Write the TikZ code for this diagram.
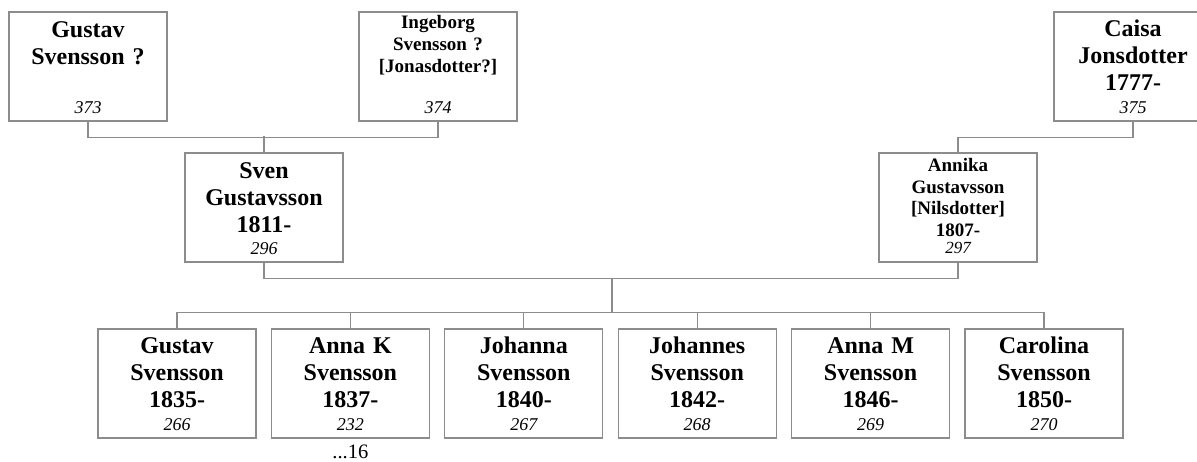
\documentclass[tikz,border=0pt]{standalone}
\usepackage{fontspec}
\setmainfont{Liberation Serif}
\definecolor{lg}{HTML}{8C8C8C}
\tikzset{
 pbox/.style={draw=lg, line width=1.3pt, minimum width=158pt, minimum height=109pt, inner sep=0pt},
 conn/.style={draw=lg, line width=1.3pt},
 nm/.style={font=\fontsize{24}{27}\selectfont\bfseries, align=center, text width=156pt, inner sep=0pt, anchor=base},
 nms/.style={font=\fontsize{19}{21.7}\selectfont\bfseries, align=center, text width=156pt, inner sep=0pt, anchor=base},
 num/.style={font=\fontsize{18}{20}\selectfont\itshape, inner sep=0pt, anchor=base},
 note/.style={font=\fontsize{20.5}{24}\selectfont, inner sep=0pt, anchor=base},
}
\begin{document}
\begin{tikzpicture}[x=1pt,y=-1pt]
\clip (0,0) rectangle (1197,461);
% grandparents
\node[pbox] (g373) at (88,66.5) {};
\node[nm] (g373n) at ([yshift=-26pt]g373.north) {Gustav\\Svensson ?};
\node[num] (g373i) at ([yshift=8pt]g373.south) {373};
\node[pbox] (i374) at (438,66.5) {};
\node[nms] (i374n) at ([yshift=-17.5pt]i374.north) {Ingeborg\\Svensson ?\\{}[Jonasdotter?]};
\node[num] (i374i) at ([yshift=8pt]i374.south) {374};
\node[pbox] (c375) at (1133,66.5) {};
\node[nm] (c375n) at ([yshift=-25pt]c375.north) {Caisa\\Jonsdotter\\1777-};
\node[num] (c375i) at ([yshift=8pt]c375.south) {375};
% parents
\node[pbox] (s296) at (264,207.5) {};
\node[nm] (s296n) at ([yshift=-26pt]s296.north) {Sven\\Gustavsson\\1811-};
\node[num] (s296i) at ([yshift=8pt]s296.south) {296};
\node[pbox] (a297) at (958,207.5) {};
\node[nms] (a297n) at ([yshift=-19pt]a297.north) {Annika\\Gustavsson\\{}[Nilsdotter]\\1807-};
\node[num, font=\fontsize{17}{20}\selectfont\itshape] (a297i) at ([yshift=9.5pt]a297.south) {297};
% children
\node[pbox] (k1) at (177,383.5) {};
\node[pbox] (k2) at (350.4,383.5) {};
\node[pbox] (k3) at (523.8,383.5) {};
\node[pbox] (k4) at (697.2,383.5) {};
\node[pbox] (k5) at (870.6,383.5) {};
\node[pbox] (k6) at (1044,383.5) {};
\node[nm] (k1n) at ([yshift=-25pt]k1.north) {Gustav\\Svensson\\1835-};
\node[num] (k1i) at ([yshift=8pt]k1.south) {266};
\node[nm] (k2n) at ([yshift=-25pt]k2.north) {Anna K\\Svensson\\1837-};
\node[num] (k2i) at ([yshift=8pt]k2.south) {232};
\node[nm] (k3n) at ([yshift=-25pt]k3.north) {Johanna\\Svensson\\1840-};
\node[num] (k3i) at ([yshift=8pt]k3.south) {267};
\node[nm] (k4n) at ([yshift=-25pt]k4.north) {Johannes\\Svensson\\1842-};
\node[num] (k4i) at ([yshift=8pt]k4.south) {268};
\node[nm] (k5n) at ([yshift=-25pt]k5.north) {Anna M\\Svensson\\1846-};
\node[num] (k5i) at ([yshift=8pt]k5.south) {269};
\node[nm] (k6n) at ([yshift=-25pt]k6.north) {Carolina\\Svensson\\1850-};
\node[num] (k6i) at ([yshift=8pt]k6.south) {270};
\node[note] (k2x) at ([yshift=-19.5pt]k2.south) {...16};
% connectors
\draw[conn] (g373.south) -- ++(0,16) -| (i374.south);
\draw[conn] (s296.north) -- ++(0,-16);
\draw[conn] (c375.south) -- ++(0,16) -| (a297.north);
\draw[conn] (s296.south) -- ++(0,16) -| (a297.south);
\coordinate (fam) at (612,278);
\draw[conn] (fam) -- ++(0,35);
\draw[conn] (k1.north) -- ++(0,-16) -| (k6.north);
\draw[conn] (k2.north) -- ++(0,-16);
\draw[conn] (k3.north) -- ++(0,-16);
\draw[conn] (k4.north) -- ++(0,-16);
\draw[conn] (k5.north) -- ++(0,-16);
\end{tikzpicture}
\end{document}
